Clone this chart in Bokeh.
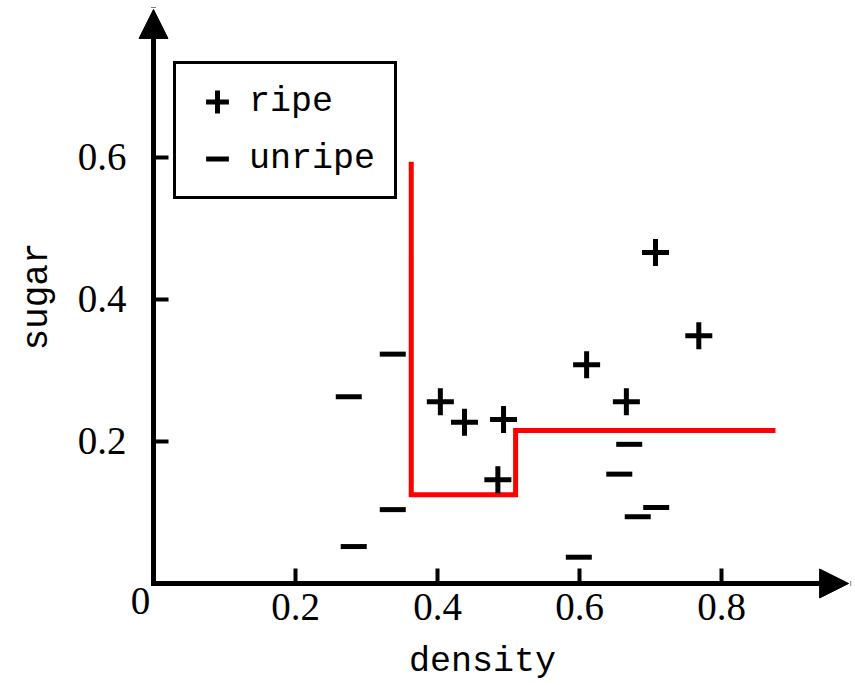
import math
from bokeh.plotting import figure
from bokeh.models import (Range1d, FixedTicker, Arrow, NormalHead, Label,
                          Legend, LegendItem)
from bokeh.embed import file_html
from bokeh.resources import INLINE

# ---- data ----
ripe_density = [0.707, 0.768, 0.610, 0.404, 0.438, 0.493, 0.666, 0.485]
ripe_sugar = [0.466, 0.349, 0.308, 0.256, 0.227, 0.231, 0.256, 0.146]

unripe_density = [0.670, 0.656, 0.682, 0.708, 0.599, 0.337, 0.275, 0.337, 0.282]
unripe_sugar = [0.196, 0.154, 0.094, 0.107, 0.037, 0.323, 0.263, 0.104, 0.052]

boundary_density = [0.363, 0.363, 0.510, 0.510, 0.876]
boundary_sugar = [0.594, 0.125, 0.125, 0.2155, 0.2155]

x_ticks = [0.2, 0.4, 0.6, 0.8]
y_ticks = [0.2, 0.4, 0.6]

# visible extent of the view (axes are drawn at 0 inside it)
x_view = (-0.2155, 0.9887)
y_view = (-0.1437, 0.8211)
x_axis_end = 0.979
y_axis_end = 0.8085

SERIF = "Liberation Serif"
MONO = "Liberation Mono"

p = figure(width=855, height=685, output_backend="svg", toolbar_location=None,
           x_range=Range1d(*x_view), y_range=Range1d(*y_view),
           min_border=0, min_border_left=0, min_border_right=0,
           min_border_top=0, min_border_bottom=0,
           background_fill_color="white", border_fill_color="white")
p.outline_line_color = None
p.grid.visible = False

for ax in (p.xaxis, p.yaxis):
    ax.fixed_location = 0
    ax.axis_line_color = None
    ax.major_tick_in = 15
    ax.major_tick_out = 0
    ax.major_tick_line_width = 4
    ax.major_tick_line_color = "black"
    ax.minor_tick_line_color = None
    ax.major_label_text_font = SERIF
    ax.major_label_text_font_size = "39px"
    ax.major_label_text_color = "black"

p.xaxis.ticker = FixedTicker(ticks=x_ticks)
p.yaxis.ticker = FixedTicker(ticks=y_ticks)
p.xaxis.bounds = (0, x_axis_end)
p.yaxis.bounds = (0, y_axis_end)
p.xaxis.major_label_standoff = 11
p.yaxis.major_label_standoff = 27

p.yaxis.axis_label = "sugar"
p.yaxis.axis_label_text_font = MONO
p.yaxis.axis_label_text_font_size = "36px"
p.yaxis.axis_label_text_font_style = "normal"
p.yaxis.axis_label_text_color = "black"
p.yaxis.axis_label_standoff = 17

# axes with arrow heads
p.add_layout(Arrow(end=NormalHead(size=29, fill_color="black", line_color="black"),
                   x_start=0, y_start=0, x_end=x_axis_end, y_end=0,
                   line_width=5, line_color="black", line_cap="square"))
p.add_layout(Arrow(end=NormalHead(size=29, fill_color="black", line_color="black"),
                   x_start=0, y_start=0, x_end=0, y_end=y_axis_end,
                   line_width=5, line_color="black", line_cap="square"))

# decision boundary
p.line(boundary_density, boundary_sugar, line_color="red", line_width=5,
       line_join="miter")

r_ripe = p.scatter(ripe_density, ripe_sugar, marker="cross", size=27,
                   line_width=5, line_color="black")
r_unripe = p.scatter(unripe_density, unripe_sugar, marker="dash", size=26,
                     line_width=5, line_color="black")

legend = Legend(items=[LegendItem(label="ripe", renderers=[r_ripe]),
                       LegendItem(label="unripe", renderers=[r_unripe])],
                location=(173, 486), orientation="vertical", padding=9,
                spacing=0, glyph_width=64, glyph_height=57, label_height=57,
                label_width=136, label_standoff=0, label_text_font=MONO,
                label_text_font_size="35px", label_text_color="black",
                border_line_color="black", border_line_width=3,
                border_line_alpha=1.0,
                background_fill_color="white", background_fill_alpha=1.0,
                margin=0)
p.add_layout(legend)

# x-axis title and origin label
p.add_layout(Label(x=482, y=24, x_units="screen", y_units="screen",
                   text="density", text_font=MONO, text_font_size="35px",
                   text_align="center", text_baseline="alphabetic",
                   text_color="black"))
p.add_layout(Label(x=0, y=0, x_offset=-13, y_offset=-18,
                   text="0", text_font=SERIF, text_font_size="39px",
                   text_align="center", text_baseline="middle",
                   text_color="black"))

open("out.html", "w").write(file_html(p, INLINE))
